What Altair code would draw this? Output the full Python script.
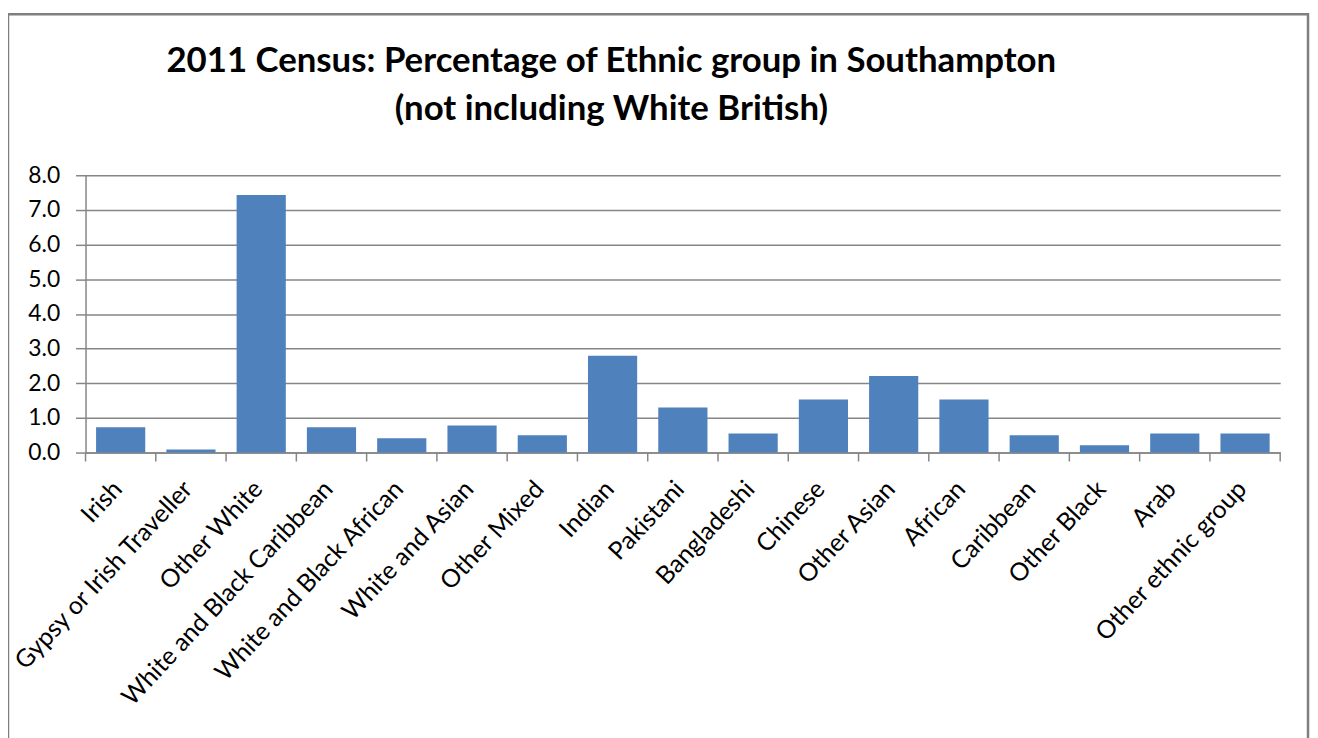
import altair as alt
import pandas as pd

categories = ["Irish", "Gypsy or Irish Traveller", "Other White",
              "White and Black Caribbean", "White and Black African",
              "White and Asian", "Other Mixed", "Indian", "Pakistani",
              "Bangladeshi", "Chinese", "Other Asian", "African",
              "Caribbean", "Other Black", "Arab", "Other ethnic group"]
values = [0.73, 0.09, 7.43, 0.73, 0.41, 0.78, 0.50, 2.79, 1.30,
          0.55, 1.53, 2.21, 1.53, 0.50, 0.21, 0.55, 0.55]
y_ticks = [0, 1, 2, 3, 4, 5, 6, 7, 8]
title_lines = ["2011 Census: Percentage of Ethnic group in Southampton",
               "(not including White British)"]

df = pd.DataFrame({"cat": categories, "val": values})
one = df.head(1)

FONT = "Lato"
GRID = "#868686"
W, H = 1202, 279

xscale = alt.Scale(domain=categories, paddingInner=0, paddingOuter=0)

bars = alt.Chart(df).mark_bar(color="#4F81BD",
                              width=alt.RelativeBandSize(0.7)).encode(
    x=alt.X("cat:N", sort=categories, scale=xscale,
            axis=alt.Axis(title=None, labelAngle=-47, labelFontSize=25,
                          labelFont=FONT, labelColor="#000000",
                          ticks=False, domain=True, domainColor=GRID,
                          domainWidth=1.5, labelPadding=32, labelOffset=-3,
                          labelLimit=500, grid=False)),
    y=alt.Y("val:Q", scale=alt.Scale(domain=[0, 8], nice=False),
            axis=alt.Axis(title=None, values=y_ticks, format=".1f",
                          labelFontSize=23, labelFont=FONT,
                          labelColor="#000000", tickSize=10,
                          tickColor=GRID, tickWidth=1.5, labelPadding=16,
                          domainColor=GRID, domainWidth=1.5,
                          grid=True, gridColor=GRID, gridWidth=1.5)),
)

ticks = alt.Chart(df).mark_rule(color=GRID, strokeWidth=1.5).encode(
    x=alt.X("cat:N", sort=categories, scale=xscale, bandPosition=0),
    y=alt.value(H),
    y2=alt.value(H + 9),
)

end_tick = alt.Chart(df).transform_filter(
    alt.datum.cat == categories[-1]
).mark_rule(color=GRID, strokeWidth=1.5).encode(
    x=alt.X("cat:N", sort=categories, scale=xscale, bandPosition=1),
    y=alt.value(H),
    y2=alt.value(H + 9),
)

frame = alt.Chart(one).mark_rect(fill=None, stroke="#7F7F7F",
                                 strokeWidth=2.5).encode(
    x=alt.value(-78), x2=alt.value(1230),
    y=alt.value(-162), y2=alt.value(600),
)

title1 = alt.Chart(one).mark_text(font=FONT, fontSize=35, fontWeight="bold",
                                  color="#000000", align="center",
                                  baseline="alphabetic").encode(
    x=alt.value(529), y=alt.value(-104), text=alt.value(title_lines[0]))
title2 = alt.Chart(one).mark_text(font=FONT, fontSize=35, fontWeight="bold",
                                  color="#000000", align="center",
                                  baseline="alphabetic").encode(
    x=alt.value(529), y=alt.value(-56), text=alt.value(title_lines[1]))

chart = alt.layer(frame, bars, ticks, end_tick, title1, title2).properties(
    width=W, height=H,
    autosize=alt.AutoSizeParams(type="none"),
    padding={"left": 78, "top": 166, "right": 30, "bottom": 300},
).configure_view(stroke=None)

chart.save("out.html", embed_options={"renderer": "svg", "actions": False})
